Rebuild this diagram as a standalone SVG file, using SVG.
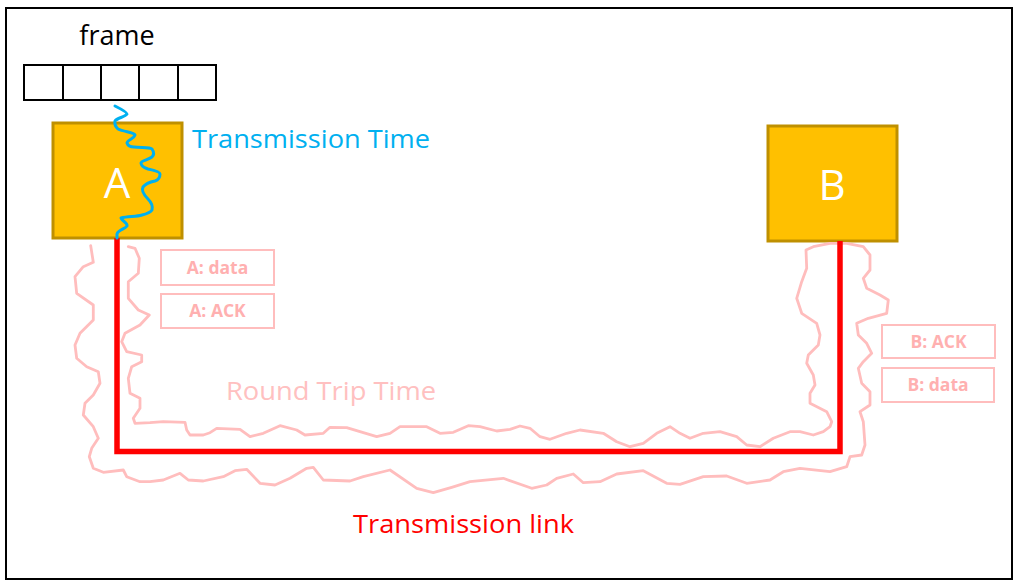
<svg xmlns="http://www.w3.org/2000/svg" width="1018" height="585" viewBox="0 0 1018 585">
<style>
.t{font-family:"Open Sans","Noto Sans","Liberation Sans",sans-serif}
.cell{fill:#fff;stroke:#000;stroke-width:2}
.node{fill:#FFC000;stroke:#BF9000;stroke-width:3}
.nl{fill:#fff;font-size:42px;text-anchor:middle}
.pb{fill:#fff;stroke:#FFBDBD;stroke-width:2}
.pt{fill:#FFB0B0;font-size:17.5px;font-weight:bold;text-anchor:middle}
</style>
<rect x="6" y="8" width="1006" height="571" fill="#fff" stroke="#000" stroke-width="2"/>

<g id="frame">
<text class="t" x="117" y="45" font-size="27" text-anchor="middle" fill="#000">frame</text>
<rect class="cell" x="24" y="65" width="39" height="35"/>
<rect class="cell" x="63" y="65" width="38" height="35"/>
<rect class="cell" x="101" y="65" width="38" height="35"/>
<rect class="cell" x="139" y="65" width="39" height="35"/>
<rect class="cell" x="178" y="65" width="38" height="35"/>
</g>

<g id="nodeA">
<rect class="node" x="53" y="123" width="129" height="115"/>
<text class="t nl" x="117" y="198">A</text>
</g>

<g id="nodeB">
<rect class="node" x="768" y="126" width="129" height="115"/>
<text class="t nl" x="832" y="200">B</text>
</g>

<g id="connectors" fill="none" stroke-linejoin="round" stroke-linecap="round">
<polyline stroke="#FFBDBD" stroke-width="2.8" points="90.7,245.7 93.3,262.3 83.3,266.7 75,276.7 76.7,293.3 93.3,305 93.3,320 80,333.3 75,345 76.7,358.3 86.7,366.7 98.3,371.7 100,383.3 93.3,395 85,403.3 83.3,415 93.3,426.7 98.3,438.3 91.7,448.3 89.3,456.7 93.3,468.3 103.3,472.3 123.3,470 126.7,476.7 140,481.7 150,481.7 163.3,480 180,473.3 188.3,480 203.3,481 223.3,476.7 235,470.7 246.7,469.3 260,483.3 275,485 290,478.3 306.7,468.3 313.3,467.3 323.3,480 350,481 363.3,476.7 390,470 416.7,488.3 433.3,492.7 451.7,487.3 470,481.7 503.3,478.3 531.7,488.3 546.7,485 556.7,478.3 573.3,474 583.3,482.7 600,481.7 616.7,474 643.3,470.7 666.7,483.3 680,484.3 703.3,476.7 726.7,476 746.7,483.3 770,480 783.3,471.7 800,468.3 830,471.7 846.7,466.7 850,456.7 861.7,455 865,445 863.3,421.7 860,411.7 870,405 870,391.7 861.7,383.3 858.3,368.3 863.3,361.7 871.7,353.3 866.7,343.3 858.3,335 856.7,323.3 868.3,318.3 886.7,313.3 888.3,300 880,295 866.7,288.3 863.3,278.3 870,270 870,255 863.3,246.7 846.7,243.3 830,243.3 813.3,246.7 806,250 806.7,268.3 801.7,281.7 796.7,298.3 801.7,313.3 816.7,323.3 820,335 818.3,345 808.3,355 806.7,363.3 813.3,375 815,385 810,393.3 810,403.3 826.7,411.7 831.7,421.7 830,426.7 823.3,431.7 813.3,435 800,431.7 790,431.7 773.3,438.3 760,446.7 746.7,445 736.7,436.7 720,431.7 703.3,433.3 690,438.3 680,433.3 670,426.7 656.7,433.3 643.3,443.3 630,446.7 616.7,441.7 603.3,433.3 580,430 566.7,433.3 550,439.3 540,436.7 530,428.3 520,426 510,429.3 496.7,431 480,426.7 468.3,425.7 453.3,432.3 440,433.3 426.7,426.7 400,426.7 390,433.3 376.7,436.7 360,431.7 346.7,427.7 330,427.3 323.3,433.3 305,435 296.7,430 280,425.7 263.3,433.3 250,436.7 240,429.3 216.7,428.3 210,432.7 203.3,435 190,435 186.7,430 185,422.3 163.3,421.7 150,422.7 135,423.3 133.3,418.3 140,408.3 140,398.3 130,393.3 128.3,378.3 131.7,366.7 141.7,361.7 141.7,355 126.7,351.7 121.7,341.7 125,333.3 140,325 149.3,315 138.3,310 128.3,298.3 128.3,281.7 138.3,273.3 139.3,258.3 135,248.3 128.3,246.7"/>
<polyline stroke="#FF0000" stroke-width="5.5" stroke-linecap="butt" stroke-linejoin="miter" points="117,238 117,451.5 840,451.5 840,241"/>
<path stroke="#00B0F0" stroke-width="3" d="M115,106 C121,109 127,112 127,114 C125,117 117,118 115,121 C114,125 116,127 118,129 C124,132 134,132 135,135 C134,139 127,140 127,143 C128,146 131,147 134,147 C140,148 150,147 152,149 C154,152 154,155 152,157 C148,160 141,161 141,163 C141,166 145,168 148,169 C153,170 160,172 160,174 C160,178 158,180 155,181 C150,182 146,183 143,187 C141,191 145,196 148,199 C151,202 153,206 152,210 C150,213 146,214 142,215 C136,217 128,216 121,218 C122,221 128,223 127,226 C125,229 118,230 117,234 L117,238"/>
</g>

<text class="t" x="192" y="148" font-size="26" fill="#00B0F0" textLength="238" lengthAdjust="spacingAndGlyphs">Transmission Time</text>
<text class="t" x="226" y="400" font-size="26" fill="#FFC0C0" textLength="210" lengthAdjust="spacingAndGlyphs">Round Trip Time</text>
<text class="t" x="353" y="533" font-size="26" fill="#FF0000" textLength="221" lengthAdjust="spacingAndGlyphs">Transmission link</text>

<g id="labelAdata"><rect class="pb" x="161" y="250" width="113" height="35"/><text class="t pt" x="217.5" y="274">A: data</text></g>
<g id="labelAack"><rect class="pb" x="161" y="294" width="113" height="34"/><text class="t pt" x="217.5" y="317">A: ACK</text></g>
<g id="labelBack"><rect class="pb" x="882" y="325" width="113" height="33"/><text class="t pt" x="938.5" y="348">B: ACK</text></g>
<g id="labelBdata"><rect class="pb" x="882" y="368" width="112" height="34"/><text class="t pt" x="938" y="391">B: data</text></g>
</svg>
